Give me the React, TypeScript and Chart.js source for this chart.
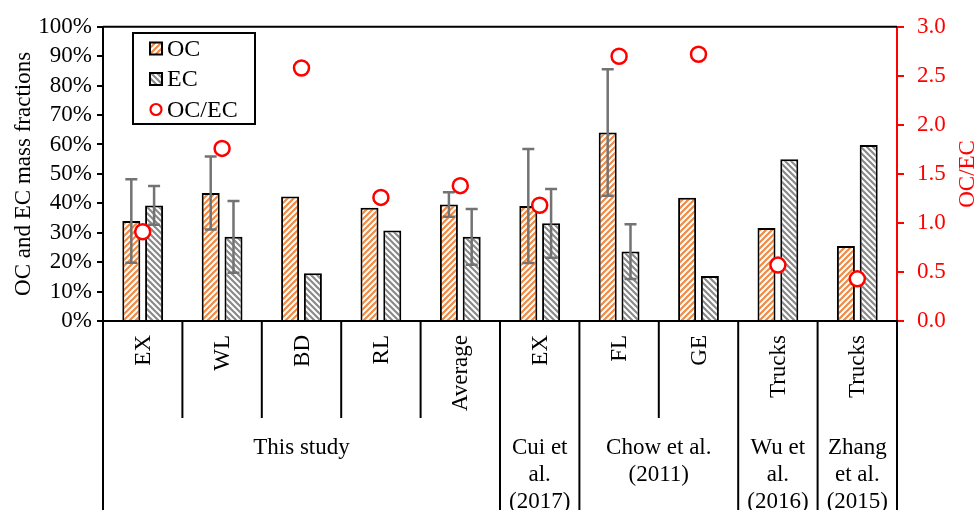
import React, { useEffect, useRef } from 'react';
import { Chart, registerables } from 'chart.js';

Chart.register(...registerables);

const categories = ['EX', 'WL', 'BD', 'RL', 'Average', 'EX', 'FL', 'GE', 'Trucks', 'Trucks'];
const groupLabels = [['This study'], ['Cui et', 'al.', '(2017)'], ['Chow et al.', '(2011)'], ['Wu et', 'al.', '(2016)'], ['Zhang', 'et al.', '(2015)']];
const groupStart = [0, 5, 6, 8, 9];
const groupEnd = [4, 5, 7, 8, 9];

const ocValues = [34.0, 43.5, 42.3, 38.5, 39.6, 39.1, 64.1, 41.9, 31.6, 25.5];
const ocErrors = [14.2, 12.4, null, null, 4.2, 19.4, 21.5, null, null, null];
const ecValues = [39.3, 28.6, 16.2, 30.8, 28.6, 33.2, 23.6, 15.3, 55.0, 59.8];
const ecErrors = [6.6, 12.2, null, null, 9.5, 11.7, 9.3, null, null, null];
const ratioValues = [0.91, 1.76, 2.58, 1.26, 1.38, 1.18, 2.70, 2.72, 0.57, 0.43];

const seriesLabels = ['OC', 'EC', 'OC/EC'];
const leftTitle = 'OC and EC mass fractions';
const rightTitle = 'OC/EC';

const FONT = "'Liberation Serif', 'Times New Roman', serif";
const OC_COLOR = '#F08A45';
const EC_COLOR = '#8A8A8A';
const RED = '#FF0000';

function makePattern(color: string, up: boolean): CanvasPattern | string {
  const n = 6;
  const c = document.createElement('canvas');
  c.width = n;
  c.height = n;
  const g = c.getContext('2d');
  if (!g) return color;
  g.fillStyle = '#ffffff';
  g.fillRect(0, 0, n, n);
  g.strokeStyle = color;
  g.lineWidth = 2.2;
  g.beginPath();
  if (up) {
    g.moveTo(-1, n + 1); g.lineTo(n + 1, -1);
    g.moveTo(-1, 1); g.lineTo(1, -1);
    g.moveTo(n - 1, n + 1); g.lineTo(n + 1, n - 1);
  } else {
    g.moveTo(-1, -1); g.lineTo(n + 1, n + 1);
    g.moveTo(n - 1, -1); g.lineTo(n + 1, 1);
    g.moveTo(-1, n - 1); g.lineTo(1, n + 1);
  }
  g.stroke();
  const p = g.createPattern(c, 'repeat');
  return p || color;
}

const customPlugin = {
  id: 'customDraw',
  afterDatasetDraw(chart: any, args: any) {
    const ds = chart.data.datasets[args.index];
    if (!ds.errors) return;
    const ctx = chart.ctx;
    const y = chart.scales.y;
    ctx.save();
    ctx.strokeStyle = '#737373';
    ctx.lineWidth = 2.5;
    args.meta.data.forEach((bar: any, i: number) => {
      const e = ds.errors[i];
      if (e == null) return;
      const v = ds.data[i];
      const x = bar.x;
      const yt = y.getPixelForValue(v + e);
      const yb = y.getPixelForValue(v - e);
      ctx.beginPath();
      ctx.moveTo(x, yt); ctx.lineTo(x, yb);
      ctx.moveTo(x - 6, yt); ctx.lineTo(x + 6, yt);
      ctx.moveTo(x - 6, yb); ctx.lineTo(x + 6, yb);
      ctx.stroke();
    });
    ctx.restore();
  },
  afterDraw(chart: any) {
    const ctx = chart.ctx;
    const area = chart.chartArea;
    const xs = chart.scales.x;
    const H = chart.height;
    const n = categories.length;
    const px = (i: number) => xs.getPixelForValue(i);
    const half = (px(1) - px(0)) / 2;
    const edge = (i: number) => px(i) - half;
    ctx.save();
    ctx.strokeStyle = '#000';
    ctx.lineWidth = 2;
    ctx.beginPath();
    ctx.moveTo(area.left, area.top); ctx.lineTo(area.right, area.top);
    ctx.moveTo(area.left - 1, area.bottom); ctx.lineTo(area.right + 1, area.bottom);
    ctx.stroke();
    const innerBottom = area.bottom + 97;
    for (let i = 0; i <= n; i++) {
      const xe = i === n ? edge(n - 1) + 2 * half : edge(i);
      const isGroup = i === 0 || i === n || groupStart.indexOf(i) >= 0;
      ctx.beginPath();
      ctx.moveTo(xe, area.bottom);
      ctx.lineTo(xe, isGroup ? H : innerBottom);
      ctx.stroke();
    }
    ctx.fillStyle = '#000';
    ctx.font = `23px ${FONT}`;
    categories.forEach((label, i) => {
      ctx.save();
      ctx.translate(px(i) + 1, area.bottom + 14);
      ctx.rotate(-Math.PI / 2);
      ctx.textAlign = 'right';
      ctx.textBaseline = 'middle';
      ctx.fillText(label, 0, 0);
      ctx.restore();
    });
    ctx.textAlign = 'center';
    ctx.textBaseline = 'middle';
    groupLabels.forEach((lines, g) => {
      const cx = (edge(groupStart[g]) + edge(groupEnd[g]) + 2 * half) / 2;
      lines.forEach((ln, k) => {
        ctx.fillText(ln, cx, area.bottom + 127 + k * 27);
      });
    });
    ctx.save();
    ctx.fillStyle = RED;
    ctx.translate(968, (area.top + area.bottom) / 2);
    ctx.rotate(-Math.PI / 2);
    ctx.textAlign = 'center';
    ctx.textBaseline = 'middle';
    ctx.fillText(rightTitle, 0, 0);
    ctx.restore();
    const lx = 133, ly = 33, lw = 122, lh = 91;
    ctx.fillStyle = '#fff';
    ctx.fillRect(lx, ly, lw, lh);
    ctx.lineWidth = 2;
    ctx.strokeStyle = '#000';
    ctx.strokeRect(lx, ly, lw, lh);
    const ds = chart.data.datasets;
    ctx.font = `24px ${FONT}`;
    ctx.textAlign = 'left';
    ctx.textBaseline = 'middle';
    for (let k = 0; k < 3; k++) {
      const cy = ly + 15.5 + k * 30.5;
      if (k < 2) {
        ctx.fillStyle = ds[k].backgroundColor;
        ctx.fillRect(150, cy - 6, 12, 12);
        ctx.strokeStyle = '#000';
        ctx.lineWidth = 2;
        ctx.strokeRect(150, cy - 6, 12, 12);
      } else {
        ctx.beginPath();
        ctx.arc(156, cy, 5.5, 0, Math.PI * 2);
        ctx.fillStyle = '#fff';
        ctx.fill();
        ctx.strokeStyle = RED;
        ctx.lineWidth = 2.2;
        ctx.stroke();
      }
      ctx.fillStyle = '#000';
      ctx.fillText(ds[k].label, 167, cy + 1);
    }
    ctx.restore();
  },
};

export default function App() {
  const ref = useRef<HTMLCanvasElement | null>(null);
  useEffect(() => {
    if (!ref.current) return;
    const ocPattern = makePattern(OC_COLOR, true);
    const ecPattern = makePattern(EC_COLOR, false);
    const chart = new Chart(ref.current, {
      type: 'bar',
      data: {
        labels: categories,
        datasets: [
          {
            label: seriesLabels[0],
            data: ocValues,
            errors: ocErrors,
            backgroundColor: ocPattern,
            borderColor: '#000',
            borderWidth: 2,
            yAxisID: 'y',
            categoryPercentage: 0.574,
            barPercentage: 0.79,
            order: 0,
          } as any,
          {
            label: seriesLabels[1],
            data: ecValues,
            errors: ecErrors,
            backgroundColor: ecPattern,
            borderColor: '#000',
            borderWidth: 2,
            yAxisID: 'y',
            categoryPercentage: 0.574,
            barPercentage: 0.79,
            order: 0,
          } as any,
          {
            type: 'line',
            label: seriesLabels[2],
            data: ratioValues,
            yAxisID: 'y1',
            showLine: false,
            pointRadius: 7.5,
            pointBorderWidth: 2.5,
            pointBorderColor: RED,
            pointBackgroundColor: '#fff',
            order: -1,
          } as any,
        ],
      },
      options: {
        responsive: true,
        maintainAspectRatio: false,
        animation: false,
        events: [],
        layout: { padding: { top: 21, left: 0, right: 0, bottom: 0 } },
        plugins: { legend: { display: false }, tooltip: { enabled: false } },
        scales: {
          x: {
            display: true,
            offset: true,
            grid: { display: false },
            border: { display: false },
            ticks: { display: false },
            afterFit: (s: any) => { s.height = 189; },
          },
          y: {
            position: 'left',
            min: 0,
            max: 100,
            ticks: {
              stepSize: 10,
              autoSkip: false,
              color: '#000',
              padding: 5,
              font: { family: FONT, size: 23 },
              callback: (v: any) => `${v}%`,
            },
            grid: { drawOnChartArea: false, color: '#000', tickLength: 6, lineWidth: 2 },
            border: { display: true, color: '#000', width: 2 },
            title: {
              display: true,
              text: leftTitle,
              color: '#000',
              font: { family: FONT, size: 23 },
              padding: { top: 10, bottom: 0 },
            },
            afterFit: (s: any) => { s.width = 103; },
          },
          y1: {
            position: 'right',
            min: 0,
            max: 3,
            ticks: {
              stepSize: 0.5,
              autoSkip: false,
              color: RED,
              padding: 13,
              font: { family: FONT, size: 23 },
              callback: (v: any) => Number(v).toFixed(1),
            },
            grid: { drawOnChartArea: false, color: RED, tickLength: 7, lineWidth: 2 },
            border: { display: true, color: RED, width: 2 },
            afterFit: (s: any) => { s.width = 81; },
          },
        },
      } as any,
      plugins: [customPlugin as any],
    });
    return () => chart.destroy();
  }, []);
  return (
    <div style={{ position: 'absolute', left: 0, top: 0, width: 978, height: 510, background: '#fff' }}>
      <canvas ref={ref} />
    </div>
  );
}
